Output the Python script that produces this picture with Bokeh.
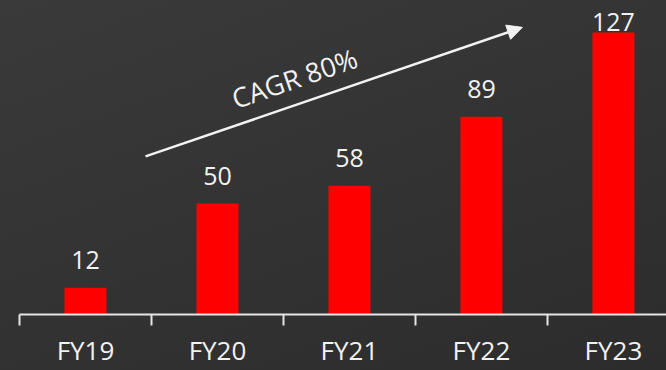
import math
import numpy as np
from bokeh.plotting import figure
from bokeh.models import (ColumnDataSource, FixedTicker, Arrow, NormalHead,
                          Label, GlobalInlineStyleSheet)
from bokeh.embed import file_html
from bokeh.resources import INLINE
from bokeh.core.properties import value

# ---- data ----
categories = ["FY19", "FY20", "FY21", "FY22", "FY23"]
revenue = [12, 50, 58, 89, 127]
cagr_label = "CAGR 80%"

FONT = "Open Sans"
xs = list(range(len(categories)))
label_y = np.minimum(np.array(revenue, dtype=float) + 12.4, 131.5)
src = ColumnDataSource(dict(x=xs, v=revenue, ly=label_y,
                            t=[str(v) for v in revenue]))

p = figure(width=666, height=370, output_backend="svg", toolbar_location=None,
           x_range=(-0.5, 4.402), y_range=(0, 141.4),
           min_border_left=19, min_border_right=0, min_border_top=0,
           min_border_bottom=56)
p.stylesheets = [GlobalInlineStyleSheet(
    css="html{min-height:100%;background:linear-gradient(160deg,#3a3a3a 0%,#2c2c2c 100%) fixed;}")]
p.background_fill_alpha = 0
p.border_fill_alpha = 0
p.outline_line_color = None
p.grid.visible = False
p.yaxis.visible = False

p.vbar(x="x", top="v", width=0.318, bottom=0, source=src,
       fill_color="#ff0000", line_color=None)
p.text(x="x", y="ly", text="t", source=src, text_align="center",
       text_baseline="alphabetic", text_font=value(FONT),
       text_font_size="25px", text_color="#f2f2f2")

ax = p.xaxis[0]
ax.ticker = FixedTicker(ticks=xs, minor_ticks=[i - 0.5 for i in range(len(categories) + 1)])
ax.major_label_overrides = {i: c for i, c in enumerate(categories)}
ax.major_tick_out = 0
ax.major_tick_in = 0
ax.minor_tick_out = 11
ax.minor_tick_in = 0
ax.minor_tick_line_color = "#e6e6e6"
ax.minor_tick_line_width = 2
ax.axis_line_color = "#e6e6e6"
ax.axis_line_width = 2
ax.major_label_text_font = FONT
ax.major_label_text_font_size = "26px"
ax.major_label_text_color = "#f2f2f2"
ax.major_label_standoff = 6

p.add_layout(Arrow(end=NormalHead(size=15, fill_color="#f2f2f2", line_color="#f2f2f2"),
                   x_start=0.455, y_start=71.2, x_end=3.31, y_end=129.3,
                   line_color="#f2f2f2", line_width=2.5))
p.add_layout(Label(x=1.583, y=106.5, text=cagr_label, angle=math.radians(19),
                   text_align="center", text_baseline="middle",
                   text_font=FONT, text_font_size="27px", text_color="#f2f2f2"))

open("out.html", "w").write(file_html(p, INLINE))
